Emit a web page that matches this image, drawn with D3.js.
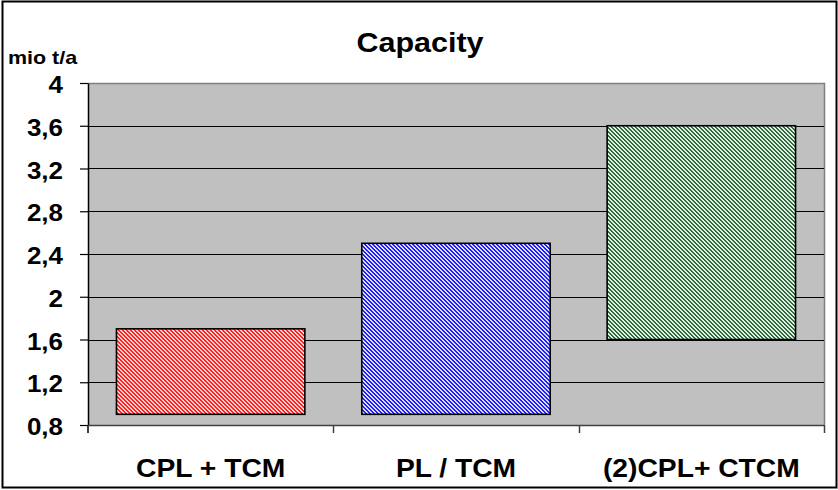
<!DOCTYPE html>
<html><head><meta charset="utf-8">
<script src="https://cdn.jsdelivr.net/npm/d3@7"></script>
<style>html,body{margin:0;padding:0;background:#fff;}svg{display:block;}text{font-family:"Liberation Sans",Arial,sans-serif;font-weight:bold;fill:#000;}</style>
</head><body><svg id="c" width="838" height="490"></svg>
<script>
const categories = ["CPL + TCM", "PL / TCM", "(2)CPL+ CTCM"];
const lowValues = [0.9, 0.9, 1.6];
const highValues = [1.7, 2.5, 3.6];
const tickValues = [0.8, 1.2, 1.6, 2, 2.4, 2.8, 3.2, 3.6, 4];
const tickLabels = ["0,8", "1,2", "1,6", "2", "2,4", "2,8", "3,2", "3,6", "4"];
const fillColors = [["#ff2020", "#ffd0d0"], ["#2020ff", "#dcdcff"], ["#2e6a3e", "#e4f2e4"]];

(function () {
const svg = d3.select("#c");
const W = 838, H = 490;
const pL = 88, pR = 824, pT = 83, pB = 425;
const SX = 1.13;

svg.append("rect").attr("x", 0).attr("y", 0).attr("width", W).attr("height", H).attr("fill", "#fff");

const defs = svg.append("defs");
fillColors.forEach((c, i) => {
  const p = defs.append("pattern").attr("id", "pat" + i).attr("patternUnits", "userSpaceOnUse")
    .attr("width", 4).attr("height", 4);
  p.append("rect").attr("width", 4).attr("height", 4).attr("fill", c[1]);
  for (let yy = 0; yy < 4; yy++) {
    for (let xx = 0; xx < 4; xx++) {
      const d = ((xx - yy) % 4 + 4) % 4;
      if (d === 0 || d === 1) p.append("rect").attr("x", xx).attr("y", yy).attr("width", 1).attr("height", 1)
        .attr("fill", c[0]).attr("shape-rendering", "crispEdges");
    }
  }
});

const x = d3.scaleBand().domain(categories).range([pL, pR]).paddingInner(0.232).paddingOuter(0.116);
const xb = d3.scaleBand().domain(categories).range([pL, pR]);
const y = d3.scaleLinear().domain([0.8, 4]).range([pB, pT]);

svg.append("rect").attr("x", pL).attr("y", pT).attr("width", pR - pL).attr("height", pB - pT)
  .attr("fill", "#c0c0c0");
svg.append("path").attr("d", `M${pL},${pT + 0.5}H${pR + 0.5}V${pB}`).attr("fill", "none")
  .attr("stroke", "#808080").attr("stroke-width", 1.5);

svg.append("g").selectAll("line").data(tickValues.slice(1, -1)).join("line")
  .attr("x1", pL).attr("x2", pR)
  .attr("y1", d => Math.round(y(d)) + 0.5).attr("y2", d => Math.round(y(d)) + 0.5)
  .attr("stroke", "#000").attr("stroke-width", 1);

svg.append("g").selectAll("rect").data(categories).join("rect")
  .attr("x", d => x(d)).attr("width", x.bandwidth())
  .attr("y", (d, i) => y(highValues[i]))
  .attr("height", (d, i) => y(lowValues[i]) - y(highValues[i]))
  .attr("fill", (d, i) => `url(#pat${i})`)
  .attr("stroke", "#000").attr("stroke-width", 1.6);

const ya = svg.append("g").attr("transform", `translate(${pL},0)`)
  .call(d3.axisLeft(y).tickValues(tickValues).tickFormat(() => "").tickSize(8).tickSizeOuter(0));
ya.select(".domain").attr("stroke", "#000").attr("stroke-width", 1.5);
ya.selectAll(".tick line").attr("stroke", "#000").attr("stroke-width", 1.2);
svg.append("line").attr("x1", pL).attr("x2", pL).attr("y1", pB).attr("y2", pB + 8)
  .attr("stroke", "#000").attr("stroke-width", 1.5);

svg.append("g").selectAll("text").data(tickValues).join("text")
  .attr("transform", d => `translate(63,${y(d) + 10}) scale(${SX},1)`)
  .attr("text-anchor", "end").attr("font-size", 23).text((d, i) => tickLabels[i]);

svg.append("line").attr("x1", pL).attr("x2", pR).attr("y1", pB + 0.5).attr("y2", pB + 0.5)
  .attr("stroke", "#404040").attr("stroke-width", 1.5);
const bounds = categories.map(c => xb(c) + xb.bandwidth());
svg.append("g").selectAll("line").data(bounds).join("line")
  .attr("x1", d => Math.round(d) + 0.5).attr("x2", d => Math.round(d) + 0.5)
  .attr("y1", pB).attr("y2", pB + 8)
  .attr("stroke", "#404040").attr("stroke-width", 1.5);

svg.append("g").selectAll("text").data(categories).join("text")
  .attr("transform", d => `translate(${xb(d) + xb.bandwidth() / 2},477) scale(${SX},1)`)
  .attr("text-anchor", "middle").attr("font-size", 25).text(d => d);

svg.append("text").attr("transform", `translate(420,52) scale(${SX},1)`)
  .attr("text-anchor", "middle").attr("font-size", 27).text("Capacity");
svg.append("text").attr("transform", `translate(8,64) scale(${SX},1)`)
  .attr("font-size", 19).text("mio t/a");

svg.append("rect").attr("x", 2.5).attr("y", 1.5).attr("width", 834).attr("height", 486)
  .attr("fill", "none").attr("stroke", "#000").attr("stroke-width", 2);
})();
</script></body></html>
